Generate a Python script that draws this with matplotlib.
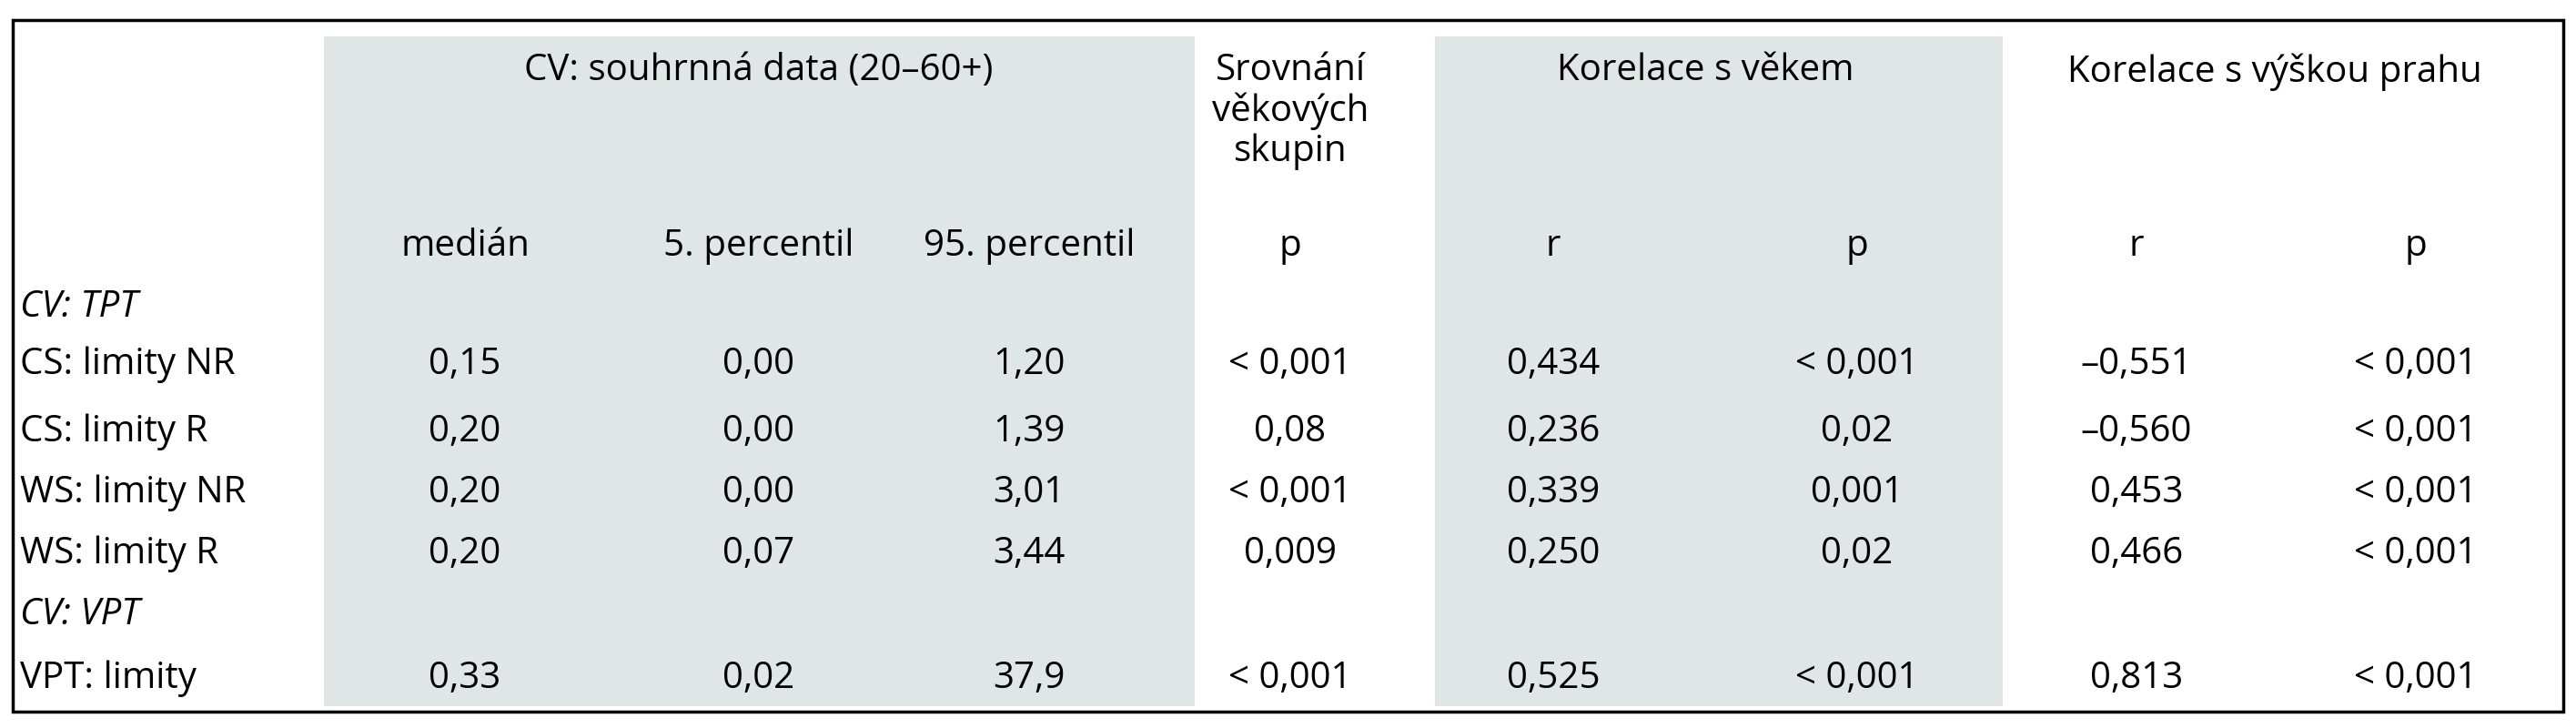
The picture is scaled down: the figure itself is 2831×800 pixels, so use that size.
import matplotlib
matplotlib.use("Agg")
import matplotlib.pyplot as plt
from matplotlib.patches import Rectangle

group_headers = ["CV: souhrnná data (20–60+)", "Srovnání\nvěkových\nskupin", "Korelace s věkem", "Korelace s výškou prahu"]
col_headers = ["medián", "5. percentil", "95. percentil", "p", "r", "p", "r", "p"]
row_labels = ["CV: TPT", "CS: limity NR", "CS: limity R", "WS: limity NR", "WS: limity R", "CV: VPT", "VPT: limity"]
median = ["", "0,15", "0,20", "0,20", "0,20", "", "0,33"]
p5 = ["", "0,00", "0,00", "0,00", "0,07", "", "0,02"]
p95 = ["", "1,20", "1,39", "3,01", "3,44", "", "37,9"]
p_age_groups = ["", "< 0,001", "0,08", "< 0,001", "0,009", "", "< 0,001"]
r_age = ["", "0,434", "0,236", "0,339", "0,250", "", "0,525"]
p_age = ["", "< 0,001", "0,02", "0,001", "0,02", "", "< 0,001"]
r_thr = ["", "–0,551", "–0,560", "0,453", "0,466", "", "0,813"]
p_thr = ["", "< 0,001", "< 0,001", "< 0,001", "< 0,001", "", "< 0,001"]

W, H = 2831, 800
fig = plt.figure(figsize=(W/100, H/100), dpi=100)
ax = fig.add_axes([0, 0, 1, 1])
ax.set_xlim(0, W); ax.set_ylim(H, 0); ax.axis("off")
plt.rcParams['font.family'] = ['Open Sans', 'DejaVu Sans']
fs = 29
shade = "#dfe6e5"
ax.add_patch(Rectangle((356, 40), 1313-356, 776-40, color=shade, lw=0))
ax.add_patch(Rectangle((1577, 40), 2201-1577, 776-40, color=shade, lw=0))
ax.add_patch(Rectangle((14, 22), 2817-14, 782-22, fill=False, ec="black", lw=2.5))

col_x = [511, 834, 1131, 1418, 1707, 2041, 2348, 2655]
grp_x = [834, 1418, 1874, 2500]
for gx, gt in zip(grp_x, group_headers):
    ax.text(gx, 58, gt, ha="center", va="top", fontsize=fs, linespacing=1.1)
for cx, ct in zip(col_x, col_headers):
    ax.text(cx, 271, ct, ha="center", va="center", fontsize=fs)
row_y = [338, 401, 475, 542, 609, 676, 746]
cols = [median, p5, p95, p_age_groups, r_age, p_age, r_thr, p_thr]
for i, (y, lab) in enumerate(zip(row_y, row_labels)):
    italic = lab.startswith("CV:")
    ax.text(22, y, lab, ha="left", va="center", fontsize=fs, style="italic" if italic else "normal")
    for cx, c in zip(col_x, cols):
        if c[i]:
            ax.text(cx, y, c[i], ha="center", va="center", fontsize=fs)
fig.savefig("out.png", dpi=100)
